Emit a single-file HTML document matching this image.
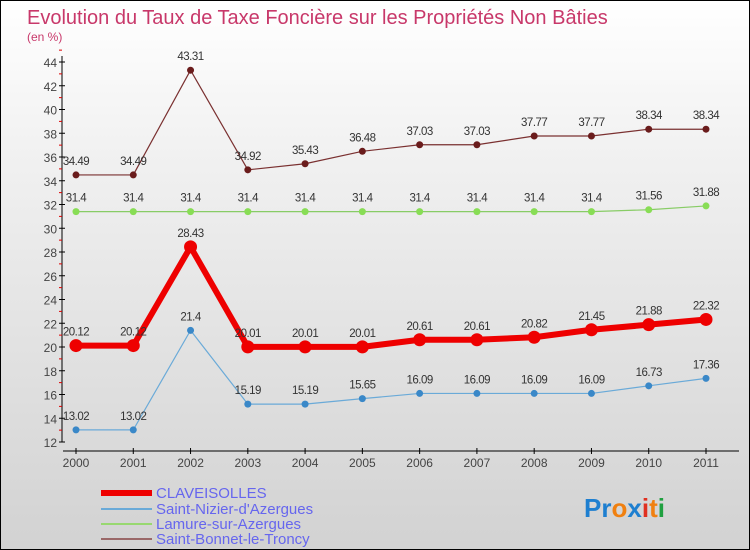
<!DOCTYPE html>
<html><head><meta charset="utf-8"><style>
body{margin:0}
#c{width:750px;height:550px;position:relative;overflow:hidden;box-sizing:border-box;border:1px solid #000;background:linear-gradient(#ffffff,#f0f0f0 30%,#d2d2d2);font-family:"Liberation Sans",sans-serif}
</style></head><body>
<div id="c">
<svg id="s" width="750" height="550" style="position:absolute;left:0;top:0">
<text x="26" y="23" font-size="20" fill="#c8386a">Evolution du Taux de Taxe Foncière sur les Propriétés Non Bâties</text>
<text x="26" y="40" font-size="12" fill="#c8386a">(en %)</text>
<g id="axes"></g><g id="series"></g>
<g>
<line x1="100" y1="492" x2="151" y2="492" stroke="#e00" stroke-width="6"/>
<text x="155" y="497" font-size="15" fill="#6666ee">CLAVEISOLLES</text>
<line x1="100" y1="508" x2="151" y2="508" stroke="#6aaad8" stroke-width="2"/>
<text x="155" y="513" font-size="15" fill="#6666ee">Saint-Nizier-d'Azergues</text>
<line x1="100" y1="523" x2="151" y2="523" stroke="#98d870" stroke-width="2"/>
<text x="155" y="528" font-size="15" fill="#6666ee">Lamure-sur-Azergues</text>
<line x1="100" y1="538" x2="151" y2="538" stroke="#9a6868" stroke-width="2"/>
<text x="155" y="543" font-size="15" fill="#6666ee">Saint-Bonnet-le-Troncy</text>
</g>
<text x="583" y="516" font-size="26" font-weight="bold"><tspan fill="#1e7fd0">Pr</tspan><tspan fill="#f08010">o</tspan><tspan fill="#1e7fd0">x</tspan><tspan fill="#e03020">i</tspan><tspan fill="#f08010">t</tspan><tspan fill="#20a040">i</tspan></text>
</svg>
</div>
<script>
const years=["2000","2001","2002","2003","2004","2005","2006","2007","2008","2009","2010","2011"];
const yTicks=[12,14,16,18,20,22,24,26,28,30,32,34,36,38,40,42,44];
const claveisolles=[20.12,20.12,28.43,20.01,20.01,20.01,20.61,20.61,20.82,21.45,21.88,22.32];
const saintNizier=[13.02,13.02,21.4,15.19,15.19,15.65,16.09,16.09,16.09,16.09,16.73,17.36];
const lamure=[31.4,31.4,31.4,31.4,31.4,31.4,31.4,31.4,31.4,31.4,31.56,31.88];
const saintBonnet=[34.49,34.49,43.31,34.92,35.43,36.48,37.03,37.03,37.77,37.77,38.34,38.34];
const NS="http://www.w3.org/2000/svg";
function X(i){return 75+i*(705-75)/(years.length-1);}
function Y(v){return 441-(v-12)*(441-61)/32;}
function mk(t,a,p){const e=document.createElementNS(NS,t);for(const k in a)e.setAttribute(k,a[k]);p.appendChild(e);return e;}
const ax=document.getElementById('axes');
const yl=mk('line',{x1:61,y1:55,x2:61,y2:441,stroke:'#000'},ax);


const xl=mk('line',{x1:62,y1:450,x2:738,y2:450,stroke:'#000'},ax);


yTicks.forEach(v=>{
 mk('line',{x1:58,y1:Y(v),x2:64,y2:Y(v),stroke:'#000'},ax);
 mk('line',{x1:58,y1:Y(v+1),x2:61,y2:Y(v+1),stroke:'#d00'},ax);
 const t=mk('text',{x:56,y:Y(v)+5,'font-size':12,'text-anchor':'end',fill:'#444'},ax);
 t.textContent=v;
 
 
});
years.forEach((y,i)=>{
 mk('line',{x1:X(i),y1:447,x2:X(i),y2:453,stroke:'#000'},ax);
 const t=mk('text',{x:X(i),y:466,'font-size':12,'text-anchor':'middle',fill:'#444'},ax);
 t.textContent=y;
 
 
});
const sg=document.getElementById('series');
function series(d,name,col,w,r,dot){
 const g=mk('g',{},sg);
 
 
 const l=mk('polyline',{points:d.map((v,i)=>X(i)+','+Y(v)).join(' '),fill:'none',stroke:col,'stroke-width':w,'stroke-linejoin':'round'},g);
 
 
 d.forEach((v,i)=>{
  const c=mk('circle',{cx:X(i),cy:Y(v),r:r,fill:dot},g);
  
  
  const t=mk('text',{x:X(i),y:Y(v)-10,'font-size':11.5,'text-anchor':'middle',fill:'#333','letter-spacing':'-0.5'},g);
  t.textContent=String(v);
  
  
 });
}
series(saintBonnet,'saint-bonnet','#7a3030',1.2,3.5,'#6a1c1c');
series(lamure,'lamure','#88cc66',1.2,3.5,'#88dd55');
series(saintNizier,'saint-nizier','#6aaad8',1.2,3.5,'#3a88c8');
series(claveisolles,'claveisolles','#ee0000',6,6.5,'#ee0000');
</script>
</body></html>
